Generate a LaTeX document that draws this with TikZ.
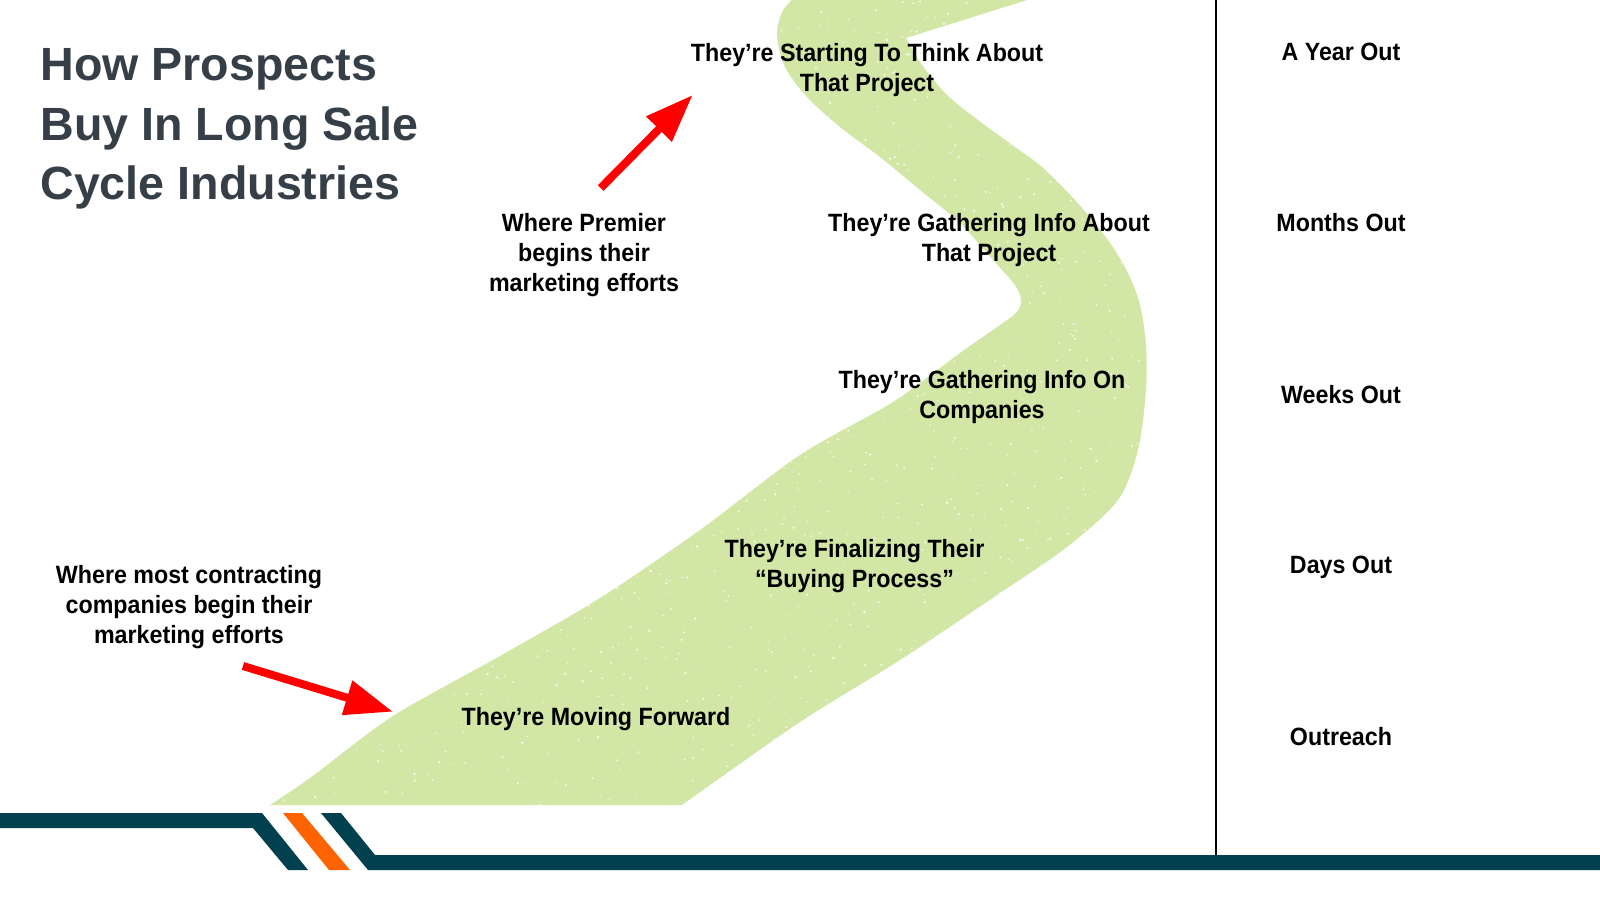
\documentclass[tikz,border=0pt]{standalone}
\usepackage{fontspec}
\setmainfont{Liberation Sans}
\newfontfamily\bodyfont{Liberation Sans}[FakeStretch=0.93]
\usetikzlibrary{arrows.meta}
\definecolor{pathgreen}{RGB}{210,230,165}
\definecolor{stripeteal}{RGB}{1,64,78}
\definecolor{stripeorange}{RGB}{255,99,0}
\definecolor{titlegray}{RGB}{54,63,72}
\definecolor{arrowred}{RGB}{255,0,0}
\tikzset{
  stagetext/.style={font=\bodyfont\bfseries\fontsize{12.5}{15}\selectfont, align=center, inner sep=0pt, anchor=north, text=black},
  timetext/.style={font=\bodyfont\bfseries\fontsize{12.5}{15}\selectfont, inner sep=0pt, anchor=base, text=black},
  titletext/.style={font=\bfseries\fontsize{23.3}{29.8}\selectfont, align=left, inner sep=0pt, anchor=north west, text=titlegray},
  redarrow/.style={draw=arrowred, line width=4pt, -{Triangle[length=24pt,width=17pt]}},
  stripe/.style={fill=stripeteal},
  stripeaccent/.style={fill=stripeorange},
  divider/.style={draw=black, line width=1.2pt},
  speck/.style={fill=white, opacity=0.75}
}
\newcommand{\roadoutline}{plot[smooth, tension=0.5] coordinates {(270,805) (310,778) (393,716) (500,656) (600,598) (700,530) (800,455) (893,402) (960,353) (1000,325) (1017,312) (1021,300) (1015,285) (993,260) (960,223) (920,190) (880,157) (840,127) (807,97) (785,67) (777,35) (782,12) (792,0)}
  -- (1027,0) -- (906,38)
  -- plot[smooth, tension=0.5] coordinates {(906,38) (922,65) (947,95) (978,120) (1015,147) (1042,167) (1075,200) (1108,240) (1128,273) (1140,305) (1146,345) (1146,390) (1138,450) (1118,500) (1067,547) (1000,593) (900,660) (800,722) (682,805)}
  -- cycle}
\begin{document}
\begin{tikzpicture}[x=0.5pt,y=-0.5pt]
\useasboundingbox (0,0) rectangle (1600,900);
\fill[white] (0,0) rectangle (1600,900);
% green road
\fill[pathgreen] \roadoutline;
\begin{scope}
  \clip \roadoutline;
  \pgfmathsetseed{11}
  \foreach \i in {1,...,2200}{
    \pgfmathsetmacro{\sx}{270+880*rnd}
    \pgfmathsetmacro{\sy}{805*rnd}
    \pgfmathsetmacro{\sr}{0.4+1.0*rnd}
    \fill[speck] (\sx,\sy) circle[radius=\sr];
  }
\end{scope}
% divider
\coordinate (divtop) at (1216,0);
\coordinate (divbot) at (1216,855);
\draw[divider] (divtop) -- (divbot);
% title
\node[titletext] (title) at (40,48) {How Prospects\\Buy In Long Sale\\Cycle Industries};
% stages
\node[stagetext] (s1) at (867,42.5) {They’re Starting To Think About\\That Project};
\node[stagetext] (s2) at (989,213) {They’re Gathering Info About\\That Project};
\node[stagetext] (s3) at (982,370) {They’re Gathering Info On\\Companies};
\node[stagetext] (s4) at (854.5,539) {They’re Finalizing Their\\“Buying Process”};
\node[stagetext] (s5) at (596,707) {They’re Moving Forward};
% annotations
\node[stagetext] (premier) at (584,213) {Where Premier\\begins their\\marketing efforts};
\node[stagetext] (most) at (189,565) {Where most contracting\\companies begin their\\marketing efforts};
% time column
\node[timetext] (t1) at (1341,60) {A Year Out};
\node[timetext] (t2) at (1341,231.5) {Months Out};
\node[timetext] (t3) at (1341,403) {Weeks Out};
\node[timetext] (t4) at (1341,573) {Days Out};
\node[timetext] (t5) at (1341,745) {Outreach};
% arrows
\coordinate (a1tail) at (243,666);
\coordinate (a1tip) at (393,711.7);
\coordinate (a2tail) at (600.7,188);
\coordinate (a2tip) at (692.7,95);
\draw[redarrow] (a1tail) -- (a1tip);
\draw[redarrow] (a2tail) -- (a2tip);
% bottom stripes
\fill[stripe] (0,813) -- (262,813) -- (308,870) -- (288,870) -- (253,828) -- (0,828) -- cycle;
\fill[stripeaccent] (283,813) -- (302,813) -- (350,870) -- (329,870) -- cycle;
\fill[stripe] (321,813) -- (341,813) -- (375,855) -- (1600,855) -- (1600,870) -- (368,870) -- cycle;
\end{tikzpicture}
\end{document}
